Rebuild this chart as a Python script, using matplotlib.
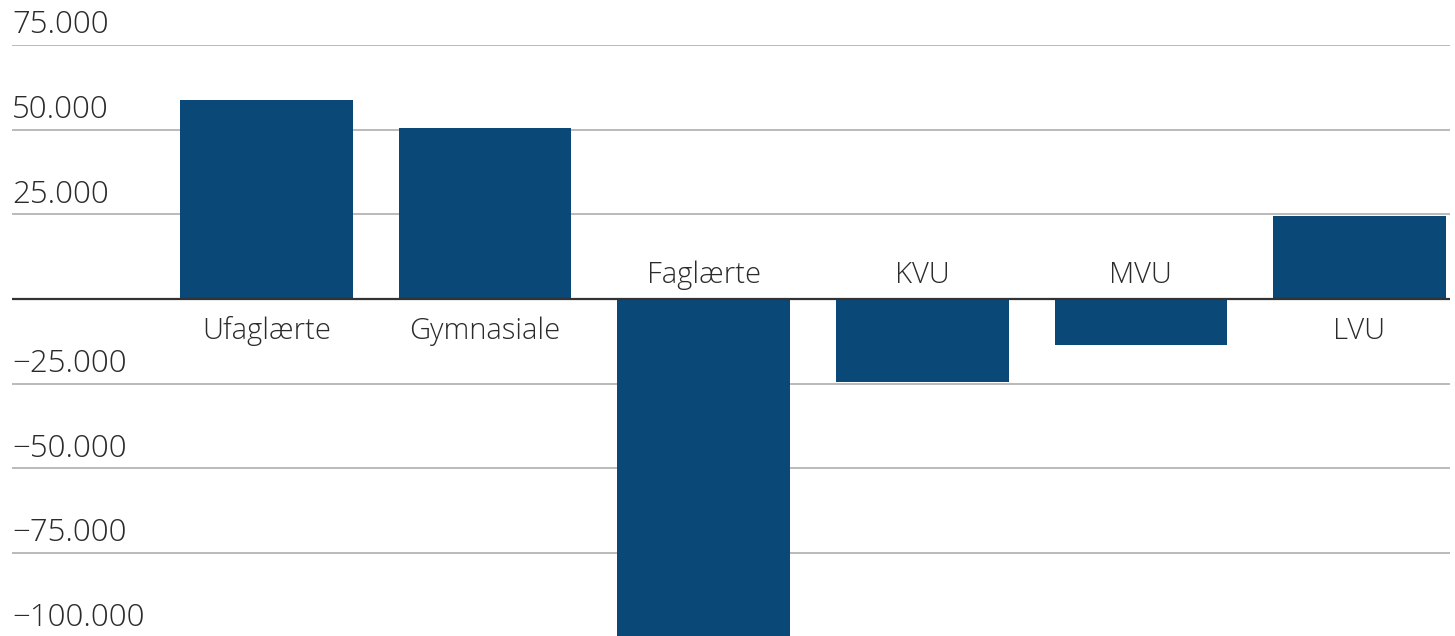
import matplotlib
matplotlib.use("Agg")
import matplotlib.pyplot as plt
import matplotlib.transforms as mtransforms

# data
categories = ["Ufaglærte", "Gymnasiale", "Faglærte", "KVU", "MVU", "LVU"]
values = [58700, 50500, -100000, -24500, -13600, 24500]
yticks = [75000, 50000, 25000, 0, -25000, -50000, -75000, -100000]

barColor = "#0a4878"
textColor = "#2b2b2b"
plt.rcParams['font.family'] = ['Open Sans', 'DejaVu Sans']


def fmt(v):
    s = "{:,}".format(abs(v)).replace(",", ".")
    return ("\u2212" + s) if v < 0 else s


fig = plt.figure(figsize=(14.55, 6.36), dpi=100)
W, H = 1455.0, 636.0
# axis spans pixel x 12..1450, y from 45 (75000) down to figure bottom
ax = fig.add_axes([12 / W, 0, 1438 / W, (H - 45) / H])
ax.set_ylim(75000 - (H - 45) / 84.67 * 25000, 75000)
ax.set_xlim(-1.164, 5.414)

x = list(range(len(categories)))
ax.bar(x, values, width=0.79, color=barColor, zorder=2)

# gridlines
for v in yticks:
    if v == 0:
        ax.axhline(0, color="#333333", linewidth=1.6, zorder=3)
    else:
        ax.axhline(v, color="#b4b4b4", linewidth=1.3, zorder=1)

# tick labels above the lines (no label at zero)
trans = mtransforms.blended_transform_factory(ax.transAxes, ax.transData)
for v in yticks:
    if v == 0:
        continue
    ax.annotate(fmt(v), xy=(0, v), xycoords=trans, xytext=(0, 8.5),
                textcoords="offset points", ha="left", va="baseline",
                fontsize=22.5, fontweight="light", color=textColor,
                clip_on=False)

# category labels on the opposite side of the zero line
for xi, (cat, v) in enumerate(zip(categories, values)):
    if v >= 0:
        off = -29
    else:
        off = 11.5
    ax.annotate(cat, xy=(xi, 0), xytext=(0, off), textcoords="offset points",
                ha="center", va="baseline", fontsize=21, fontweight="light",
                color=textColor)

ax.axis("off")
fig.savefig("out.png", dpi=100)
